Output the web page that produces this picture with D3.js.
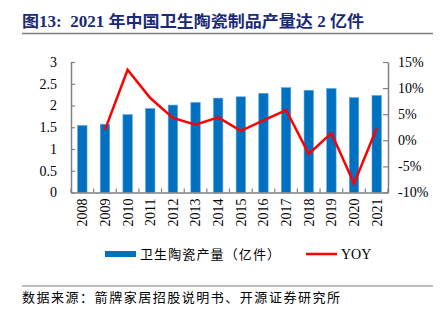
<!DOCTYPE html>
<html><head><meta charset="utf-8">
<script src="https://cdn.jsdelivr.net/npm/d3@7"></script>
<style>body{margin:0;background:#fff}svg{display:block}</style>
</head><body>
<svg id="c" width="442" height="322"></svg>
<script>
const years = ["2008","2009","2010","2011","2012","2013","2014","2015","2016","2017","2018","2019","2020","2021"];
const output = [1.54,1.57,1.79,1.93,2.01,2.07,2.17,2.20,2.28,2.41,2.35,2.39,2.18,2.23];
const yoy = [null,2.0,13.5,8.1,4.3,3.0,4.4,1.8,3.8,5.8,-2.6,1.4,-8.3,2.3];
const leftTicks = [0,0.5,1,1.5,2,2.5,3];
const rightTicks = [-10,-5,0,5,10,15];
const titleText = "图13:\u00a0\u00a02021 年中国卫生陶瓷制品产量达 2 亿件";
const sourceText = "数据来源：箭牌家居招股说明书、开源证券研究所";
const legendBar = "卫生陶瓷产量（亿件）";
const legendLine = "YOY";

const svg = d3.select("#c");
const L = 71, R = 388, T = 62, B = 192.5;
const serif = "'Liberation Serif','Times New Roman',serif";
const cjk = "'Noto Sans CJK SC',sans-serif";

// title
svg.append("text").attr("x",22).attr("y",27).attr("fill","#1B2A78")
  .attr("font-family",serif+","+cjk).attr("font-weight","bold").attr("font-size",16)
  .style("white-space","pre")
  .attr("textLength",342).attr("lengthAdjust","spacingAndGlyphs").text(titleText);
svg.append("line").attr("x1",22).attr("x2",433).attr("y1",33.5).attr("y2",33.5)
  .attr("stroke","#7f7f7f").attr("stroke-width",1.5);

const xb = d3.scaleBand().domain(years).range([L,R]);
const yL = d3.scaleLinear().domain([0,3]).range([B,T]);
const yR = d3.scaleLinear().domain([-10,15]).range([B,T]);

// bars
svg.append("g").selectAll("rect").data(output).join("rect")
  .attr("x",(d,i)=>xb(years[i])+xb.bandwidth()/2-4.7).attr("width",9.4)
  .attr("y",d=>yL(d)).attr("height",d=>yL(0)-yL(d))
  .attr("fill","#0070C0").attr("stroke","#5aa6dc").attr("stroke-width",0.6);

// axes
const axisColor = "#808080";
const gl = svg.append("g").attr("transform",`translate(${L},0)`)
  .call(d3.axisLeft(yL).tickValues(leftTicks).tickFormat(d=>d).tickSizeInner(-4).tickSizeOuter(0).tickPadding(14));
const gr = svg.append("g").attr("transform",`translate(${R},0)`)
  .call(d3.axisRight(yR).tickValues(rightTicks).tickFormat(d=>d+"%").tickSizeInner(-5).tickSizeOuter(0).tickPadding(12));
const gx = svg.append("g").attr("transform",`translate(0,${B})`)
  .call(d3.axisBottom(xb).tickSize(0).tickPadding(6));
[gl,gr,gx].forEach(g=>{
  g.select(".domain").attr("stroke",axisColor).attr("stroke-width",1.5);
  g.selectAll(".tick line").attr("stroke",axisColor).attr("stroke-width",1.2);
  g.selectAll("text").attr("font-family",serif).attr("font-size",14).attr("fill","#000");
});
gr.selectAll("text").attr("dx",-2);
gx.selectAll(".tick text").attr("transform","rotate(-90)").attr("text-anchor","end")
  .attr("x",-6).attr("y",0).attr("dy","0.35em");
// x ticks between bands (pointing up)
const bounds = years.map(y=>xb(y)).concat([R]);
svg.append("g").selectAll("line").data(bounds).join("line")
  .attr("x1",d=>d).attr("x2",d=>d).attr("y1",B).attr("y2",B-4)
  .attr("stroke",axisColor).attr("stroke-width",1.2);

// line
const pts = yoy.map((v,i)=>({v,i})).filter(d=>d.v!==null);
svg.append("path").datum(pts)
  .attr("d",d3.line().x(d=>xb(years[d.i])+xb.bandwidth()/2).y(d=>yR(d.v)))
  .attr("fill","none").attr("stroke","#FF0000").attr("stroke-width",2.5).attr("stroke-linejoin","miter");

// legend
svg.append("rect").attr("x",105).attr("y",251).attr("width",31).attr("height",6).attr("fill","#0070C0");
svg.append("text").attr("x",140).attr("y",259).attr("font-family",cjk).attr("font-size",13)
  .attr("textLength",140).attr("lengthAdjust","spacing").text(legendBar);
svg.append("line").attr("x1",306).attr("x2",337).attr("y1",254).attr("y2",254)
  .attr("stroke","#FF0000").attr("stroke-width",2.5);
svg.append("text").attr("x",341).attr("y",259).attr("font-family",serif).attr("font-size",14).text(legendLine);

// source
svg.append("line").attr("x1",22).attr("x2",433).attr("y1",286).attr("y2",286)
  .attr("stroke","#7f7f7f").attr("stroke-width",1.2);
svg.append("text").attr("x",22).attr("y",302).attr("font-family",cjk).attr("font-size",13)
  .attr("textLength",318).attr("lengthAdjust","spacing").attr("fill","#000").text(sourceText);
</script>
</body></html>
